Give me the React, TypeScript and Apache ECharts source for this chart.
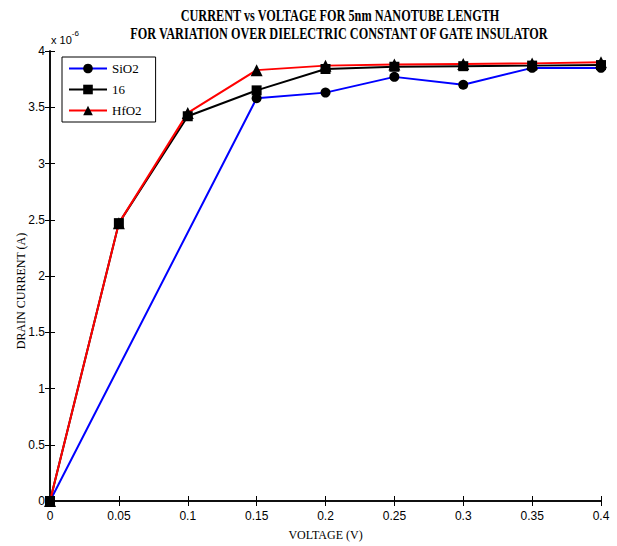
import React, { useEffect, useRef } from "react";
import * as echarts from "echarts";

const voltage = [0, 0.05, 0.1, 0.15, 0.2, 0.25, 0.3, 0.35, 0.4];
const sio2 = [0, null, null, 3.58, 3.63, 3.77, 3.7, 3.85, 3.85];
const k16 = [0, 2.47, 3.42, 3.65, 3.84, 3.86, 3.865, 3.87, 3.875];
const hfo2 = [0, 2.47, 3.45, 3.83, 3.87, 3.88, 3.885, 3.89, 3.9];
const seriesNames = ["SiO2", "16", "HfO2"];
const titleLines = [
  "CURRENT vs VOLTAGE FOR 5nm NANOTUBE LENGTH",
  "FOR VARIATION OVER DIELECTRIC CONSTANT OF GATE INSULATOR",
];
const xTitle = "VOLTAGE (V)";
const yTitle = "DRAIN CURRENT (A)";

const tickFont = '"Liberation Sans Narrow", "Liberation Sans", Arial, sans-serif';
const serif = '"Liberation Serif", "Times New Roman", serif';

function pairs(vals: (number | null)[]) {
  return voltage
    .map((v, i) => [v, vals[i]])
    .filter((p) => p[1] !== null);
}

export default function App() {
  const ref = useRef<HTMLDivElement>(null);
  useEffect(() => {
    if (!ref.current) return;
    const chart = echarts.init(ref.current, null, { renderer: "svg" });
    const lineSeries = (name: string, data: any, color: string, symbol: string) => ({
      name,
      type: "line",
      data,
      symbol,
      symbolSize: symbol === "triangle" ? 12 : 10,
      showAllSymbol: true,
      lineStyle: { color, width: 2 },
      itemStyle: { color: "#000" },
      z: 3,
    });
    chart.setOption({
      animation: false,
      backgroundColor: "#fff",
      grid: { left: 50, right: 16, top: 51, bottom: 40, containLabel: false },
      legend: {
        orient: "vertical",
        left: 62,
        top: 57,
        padding: [5, 14, 5, 6],
        itemGap: 8,
        itemWidth: 38,
        itemHeight: 12,
        borderColor: "#000",
        borderWidth: 1,
        backgroundColor: "#fff",
        data: seriesNames,
        textStyle: { fontFamily: serif, fontSize: 13, color: "#000" },
      },
      xAxis: [
        {
          type: "value",
          min: 0,
          max: 0.4,
          interval: 0.05,
          name: xTitle,
          nameLocation: "middle",
          nameGap: 28,
          nameTextStyle: { fontFamily: serif, fontSize: 12, color: "#000" },
          axisLine: { lineStyle: { color: "#000", width: 1.5 } },
          axisTick: { inside: true, length: 5, lineStyle: { color: "#000" } },
          axisLabel: { fontFamily: tickFont, fontSize: 12, color: "#000", margin: 9 },
          splitLine: { show: false },
        },
        {
          type: "value",
          position: "top",
          min: 0,
          max: 0.4,
          interval: 0.05,
          axisLine: { show: true, lineStyle: { color: "#000", width: 1.5 } },
          axisTick: { show: true, inside: true, length: 5, lineStyle: { color: "#000" } },
          axisLabel: { show: false },
          splitLine: { show: false },
        },
      ],
      yAxis: [
        {
          type: "value",
          min: 0,
          max: 4,
          interval: 0.5,
          axisLine: { show: true, lineStyle: { color: "#000", width: 1.5 } },
          axisTick: { show: true, inside: true, length: 5, lineStyle: { color: "#000" } },
          axisLabel: { fontFamily: tickFont, fontSize: 12, color: "#000", margin: 5 },
          splitLine: { show: false },
        },
        {
          type: "value",
          position: "right",
          min: 0,
          max: 4,
          interval: 0.5,
          axisLine: { show: true, lineStyle: { color: "#000", width: 1.5 } },
          axisTick: { show: true, inside: true, length: 5, lineStyle: { color: "#000" } },
          axisLabel: { show: false },
          splitLine: { show: false },
        },
      ],
      graphic: [
        {
          type: "text",
          x: 340,
          y: 15,
          scaleX: 0.72,
          style: {
            text: titleLines[0],
            font: `bold 17px ${serif}`,
            fill: "#000",
            textAlign: "center",
            textVerticalAlign: "middle",
          },
        },
        {
          type: "text",
          x: 339,
          y: 33,
          scaleX: 0.72,
          style: {
            text: titleLines[1],
            font: `bold 17px ${serif}`,
            fill: "#000",
            textAlign: "center",
            textVerticalAlign: "middle",
          },
        },
        {
          type: "text",
          x: 21,
          y: 291,
          rotation: Math.PI / 2,
          style: {
            text: yTitle,
            font: `12px ${serif}`,
            fill: "#000",
            textAlign: "center",
            textVerticalAlign: "middle",
          },
        },
        {
          type: "text",
          x: 51,
          y: 28,
          style: {
            text: "{a|x 10}{b|-6}",
            fill: "#000",
            rich: {
              a: { fontFamily: tickFont, fontSize: 11, color: "#000", padding: [6, 0, 0, 0] },
              b: { fontFamily: tickFont, fontSize: 8, color: "#000", padding: [0, 0, 6, 0] },
            },
          },
        },
      ],
      series: [
        lineSeries(seriesNames[0], pairs(sio2), "#0000ff", "circle"),
        lineSeries(seriesNames[1], pairs(k16), "#000000", "rect"),
        lineSeries(seriesNames[2], pairs(hfo2), "#ff0000", "triangle"),
      ],
    });
    return () => chart.dispose();
  }, []);
  return (
    <div
      ref={ref}
      style={{ position: "absolute", left: 0, top: 0, width: 617, height: 546 }}
    />
  );
}
